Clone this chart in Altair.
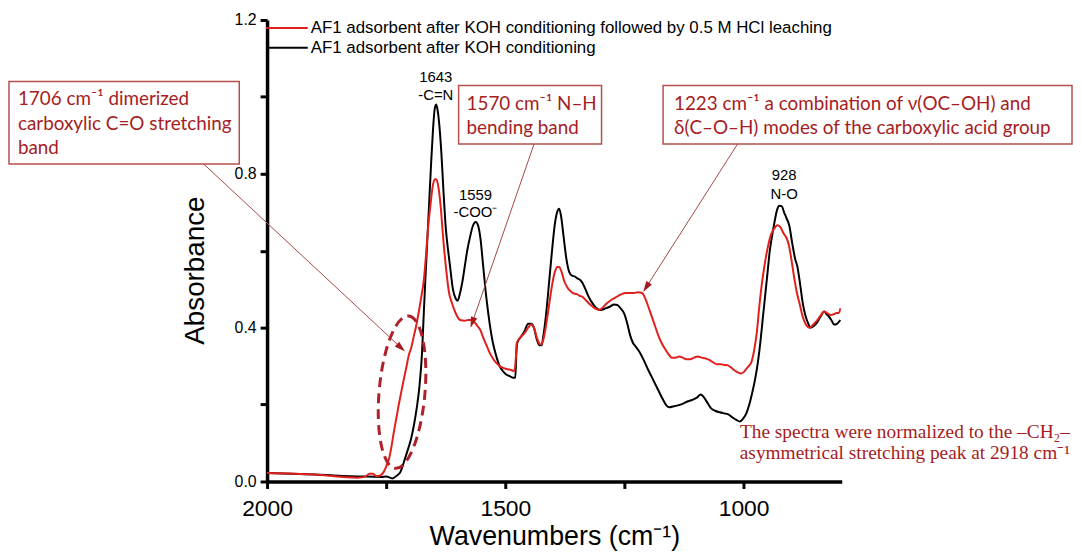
import math
import altair as alt
import pandas as pd

# ---------------- data ----------------
series_red = "AF1 adsorbent after KOH conditioning followed by 0.5 M HCl leaching"
series_black = "AF1 adsorbent after KOH conditioning"

wn_black = [2000, 1900, 1800, 1760, 1750, 1737, 1728, 1720, 1713, 1706, 1698, 1692, 1686, 1680,
            1675, 1671, 1668, 1664, 1660, 1656, 1652, 1648, 1645, 1642, 1638, 1634, 1630, 1625,
            1620, 1616, 1610, 1604, 1600, 1595, 1590, 1585, 1580, 1574, 1568, 1562, 1557, 1552,
            1547, 1540, 1533, 1526, 1519, 1512, 1505, 1498, 1491, 1484, 1479, 1477, 1475, 1468,
            1460, 1452, 1446, 1440, 1434, 1428, 1424, 1420, 1414, 1408, 1402, 1396, 1390, 1387,
            1383, 1378, 1372, 1366, 1360, 1354, 1349, 1344, 1338, 1332, 1325, 1318, 1310, 1300,
            1290, 1280, 1272, 1265, 1258, 1250, 1244, 1238, 1232, 1227, 1220, 1210, 1200, 1190,
            1180, 1170, 1162, 1156, 1148, 1138, 1128, 1118, 1108, 1098, 1090, 1084, 1076, 1068,
            1060, 1050, 1040, 1033, 1025, 1015, 1008, 1000, 994, 988, 982, 976, 970, 965, 960,
            955, 950, 945, 940, 935, 930, 925, 920, 915, 910, 904, 898, 892, 887, 881, 876, 870,
            864, 859, 852, 845, 838, 831, 826, 821, 815, 810, 804, 797]
abs_black = [0.022, 0.018, 0.013, 0.012, 0.013, 0.008, 0.015, 0.025, 0.05, 0.077, 0.11, 0.145,
             0.19, 0.25, 0.33, 0.44, 0.52, 0.62, 0.72, 0.82, 0.91, 0.97, 0.98, 0.965, 0.92, 0.85,
             0.76, 0.66, 0.60, 0.56, 0.50, 0.475, 0.47, 0.49, 0.52, 0.56, 0.60, 0.636, 0.665,
             0.675, 0.665, 0.63, 0.567, 0.48, 0.412, 0.36, 0.326, 0.30, 0.287, 0.278, 0.274, 0.27,
             0.27, 0.33, 0.36, 0.375, 0.39, 0.41, 0.41, 0.40, 0.37, 0.354, 0.354, 0.38, 0.44,
             0.52, 0.60, 0.67, 0.705, 0.709, 0.69, 0.64, 0.58, 0.545, 0.535, 0.533, 0.528, 0.525,
             0.516, 0.50, 0.48, 0.465, 0.452, 0.446, 0.45, 0.455, 0.46, 0.459, 0.45, 0.435, 0.41,
             0.38, 0.36, 0.352, 0.34, 0.317, 0.29, 0.265, 0.24, 0.215, 0.198, 0.193, 0.195, 0.198,
             0.202, 0.208, 0.212, 0.218, 0.226, 0.22, 0.205, 0.19, 0.184, 0.18, 0.177, 0.175,
             0.168, 0.16, 0.156, 0.165, 0.178, 0.20, 0.23, 0.265, 0.31, 0.36, 0.42, 0.48, 0.54,
             0.60, 0.64, 0.675, 0.705, 0.717, 0.716, 0.70, 0.685, 0.665, 0.62, 0.58, 0.558, 0.51,
             0.465, 0.43, 0.41, 0.40, 0.405, 0.415, 0.43, 0.442, 0.435, 0.429, 0.418, 0.408, 0.41,
             0.42]

wn_red = [2000, 1900, 1810, 1795, 1785, 1778, 1770, 1762, 1755, 1748, 1744, 1739, 1734, 1729,
          1724, 1718, 1713, 1708, 1703, 1697, 1692, 1687, 1682, 1677, 1671, 1667, 1662, 1657,
          1652, 1648, 1645, 1641, 1636, 1630, 1624, 1618, 1612, 1605, 1595, 1585, 1578, 1571,
          1565, 1559, 1553, 1545, 1538, 1533, 1525, 1518, 1512, 1504, 1495, 1488, 1481, 1478,
          1476, 1468, 1460, 1452, 1446, 1440, 1434, 1428, 1425, 1420, 1414, 1408, 1402, 1396,
          1391, 1387, 1382, 1376, 1370, 1366, 1358, 1350, 1344, 1338, 1330, 1322, 1314, 1308,
          1303, 1296, 1288, 1280, 1272, 1264, 1256, 1248, 1240, 1230, 1222, 1213, 1206, 1200,
          1193, 1186, 1179, 1172, 1165, 1158, 1151, 1143, 1135, 1128, 1120, 1112, 1104, 1096,
          1088, 1080, 1072, 1064, 1056, 1048, 1040, 1033, 1025, 1018, 1011, 1005, 999, 993, 988,
          984, 978, 972, 967, 961, 955, 949, 943, 937, 932, 928, 922, 916, 911, 905, 900, 894,
          888, 882, 876, 870, 865, 861, 856, 850, 845, 838, 831, 825, 817, 810, 805, 800, 797]
abs_red = [0.022, 0.018, 0.010, 0.012, 0.02, 0.02, 0.014, 0.016, 0.025, 0.045, 0.059, 0.09,
           0.128, 0.162, 0.197, 0.235, 0.266, 0.295, 0.326, 0.35, 0.378, 0.405, 0.438, 0.475,
           0.524, 0.58, 0.66, 0.72, 0.77, 0.786, 0.786, 0.77, 0.72, 0.627, 0.55, 0.49, 0.464,
           0.44, 0.42, 0.418, 0.42, 0.42, 0.415, 0.405, 0.395, 0.37, 0.35, 0.335, 0.318, 0.307,
           0.30, 0.295, 0.292, 0.29, 0.287, 0.32, 0.36, 0.375, 0.385, 0.40, 0.408, 0.40, 0.375,
           0.358, 0.356, 0.37, 0.41, 0.46, 0.51, 0.545, 0.558, 0.558, 0.545, 0.52, 0.505, 0.498,
           0.49, 0.487, 0.483, 0.48, 0.47, 0.46, 0.452, 0.448, 0.446, 0.452, 0.462, 0.47, 0.476,
           0.482, 0.487, 0.49, 0.49, 0.49, 0.492, 0.49, 0.475, 0.455, 0.43, 0.405, 0.38, 0.36,
           0.345, 0.332, 0.322, 0.322, 0.325, 0.322, 0.318, 0.318, 0.322, 0.325, 0.322, 0.32,
           0.316, 0.31, 0.305, 0.305, 0.303, 0.302, 0.295, 0.288, 0.283, 0.281, 0.285, 0.295,
           0.302, 0.309, 0.34, 0.39, 0.455, 0.52, 0.57, 0.61, 0.64, 0.655, 0.664, 0.666, 0.66,
           0.645, 0.636, 0.615, 0.58, 0.532, 0.49, 0.46, 0.429, 0.41, 0.402, 0.40, 0.405, 0.413,
           0.42, 0.432, 0.442, 0.438, 0.433, 0.435, 0.438, 0.438, 0.45]

x_ticks = [2000, 1750, 1500, 1250, 1000]
y_ticks = [0.0, 0.2, 0.4, 0.6, 0.8, 1.0, 1.2]

# ---------------- layout ----------------
W, H = 579, 465          # plot area
OX, OY = 269, 18         # plot origin on the page
XMIN, XMAX = 794, 2000
YMIN, YMAX = 0.0, 1.2

RED = "#E0201C"
DARKRED = "#A51D22"
BOXRED = "#B5504E"
ARROWRED = "#A54848"
BOXFONT = "Lato, 'Noto Sans', sans-serif"


def wn_at(px):
    return XMAX - (px - OX) / W * (XMAX - XMIN)


def ab_at(py):
    return YMAX - (py - OY) / H * (YMAX - YMIN)


xs = alt.Scale(domain=[XMIN, XMAX], reverse=True, nice=False, zero=False)
ys = alt.Scale(domain=[YMIN, YMAX], nice=False, zero=False)
color_scale = alt.Scale(domain=[series_red, series_black], range=[RED, "black"])

x_axis = alt.Axis(values=x_ticks, labelExpr="datum.value % 500 == 0 ? format(datum.value, 'd') : ''",
                  title="Wavenumbers (cm⁻¹)", titleFontSize=27, titleY=55, titleBaseline="middle",
                  labelFontSize=23, labelPadding=9)
y_axis = alt.Axis(values=y_ticks,
                  labelExpr="round(datum.value * 10) % 4 == 0 ? format(datum.value, '.1f') : ''",
                  title="Absorbance", titleFontSize=28, titleAngle=270,
                  titleX=-72, titleY=252, titleAlign="center", titleBaseline="middle",
                  labelFontSize=16, labelPadding=4)

spec = pd.concat([
    pd.DataFrame({"wn": wn_black, "A": abs_black, "series": series_black}),
    pd.DataFrame({"wn": wn_red, "A": abs_red, "series": series_red}),
])

lines = alt.Chart(spec).mark_line(strokeWidth=2, interpolate="monotone").encode(
    x=alt.X("wn:Q", scale=xs, axis=x_axis),
    y=alt.Y("A:Q", scale=ys, axis=y_axis),
    color=alt.Color("series:N", scale=color_scale, legend=None),
    detail="series:N",
)


def X(field):
    return alt.X(field, scale=xs, axis=x_axis)


def Y(field):
    return alt.Y(field, scale=ys, axis=y_axis)


# ---------------- legend (drawn as marks) ----------------
leg = pd.DataFrame({
    "series": [series_red, series_black],
    "x1": [wn_at(268)] * 2, "x2": [wn_at(310)] * 2, "xt": [wn_at(313)] * 2,
    "y": [ab_at(26), ab_at(46)],
})
leg_rules = alt.Chart(leg).mark_rule(strokeWidth=2).encode(
    x=X("x1:Q"), x2="x2:Q", y=Y("y:Q"),
    color=alt.Color("series:N", scale=color_scale, legend=None),
)
leg_text = alt.Chart(leg).mark_text(align="left", baseline="middle", font="Liberation Sans",
                                    fontSize=17, color="black").encode(
    x=X("xt:Q"), y=Y("y:Q"), text="series:N")

# ---------------- peak labels ----------------
peaks = pd.DataFrame({
    "t": ["1643", "-C=N", "1559", "-COO⁻", "928", "N-O"],
    "x": [wn_at(p) for p in [439, 439, 479, 479, 790, 790]],
    "y": [ab_at(p) for p in [75, 94, 194, 212, 174, 193]],
})
peak_text = alt.Chart(peaks).mark_text(align="center", baseline="middle", font="Liberation Sans",
                                       fontSize=15, color="black").encode(
    x=X("x:Q"), y=Y("y:Q"), text="t:N")

# ---------------- annotation boxes ----------------
boxes = pd.DataFrame({
    "x1": [wn_at(p) for p in [9, 462, 668]], "x2": [wn_at(p) for p in [241, 606, 1080]],
    "y1": [ab_at(p) for p in [80, 84, 84]], "y2": [ab_at(p) for p in [163, 143, 143]],
})
box_rects = alt.Chart(boxes).mark_rect(fill="white", stroke=BOXRED, strokeWidth=1.5).encode(
    x=X("x1:Q"), x2="x2:Q", y=Y("y1:Q"), y2="y2:Q")

box_lines = pd.DataFrame({
    "t": ["1706 cm⁻¹ dimerized", "carboxylic C=O stretching", "band",
          "1570 cm⁻¹ N–H", "bending band",
          "1223 cm⁻¹ a combination of ν(OC–OH) and", "δ(C–O–H) modes of the carboxylic acid group"],
    "x": [wn_at(p) for p in [18, 18, 18, 470, 470, 679, 679]],
    "y": [ab_at(p) for p in [98, 122.5, 147, 103, 127, 103, 127]],
})
box_text = alt.Chart(box_lines).mark_text(align="left", baseline="middle", font=BOXFONT,
                                          fontSize=19, color=DARKRED).encode(
    x=X("x:Q"), y=Y("y:Q"), text="t:N")

# ---------------- arrows ----------------
arrow_px = [((205, 163), (408, 352)), ((538, 143), (474, 328)), ((743, 143), (648, 292))]
rows, heads = [], []
for (sx, sy), (tx, ty) in arrow_px:
    dx, dy = tx - sx, ty - sy
    L = math.hypot(dx, dy)
    ux, uy = dx / L, dy / L
    rows.append({"x1": wn_at(sx), "y1": ab_at(sy), "x2": wn_at(tx - ux * 6), "y2": ab_at(ty - uy * 6)})
    heads.append({"x": wn_at(tx - ux * 5.5), "y": ab_at(ty - uy * 5.5),
                  "ang": math.degrees(math.atan2(dx, -dy)) % 360})
arrow_lines = alt.Chart(pd.DataFrame(rows)).mark_rule(color=ARROWRED, strokeWidth=1).encode(
    x=X("x1:Q"), x2="x2:Q", y=Y("y1:Q"), y2="y2:Q")
arrow_heads = alt.Chart(pd.DataFrame(heads)).mark_point(
    shape="M 0 -1 L 0.6 1 L -0.6 1 Z", filled=True, size=121, color="#A8191E", opacity=1).encode(
    x=X("x:Q"), y=Y("y:Q"), angle=alt.Angle("ang:Q", scale=None))

# ---------------- dashed ellipse ----------------
a, k = 0.3, 0.5523
ell_path = (f"M 0 -1 C {k*a:.4f} -1 {a} {-k:.4f} {a} 0 C {a} {k:.4f} {k*a:.4f} 1 0 1 "
            f"C {-k*a:.4f} 1 {-a} {k:.4f} {-a} 0 C {-a} {-k:.4f} {-k*a:.4f} -1 0 -1 Z")
ell = pd.DataFrame({"x": [wn_at(405)], "y": [ab_at(393)]})
ellipse = alt.Chart(ell).mark_point(shape=ell_path, filled=False, size=154 ** 2, angle=5,
                                    stroke="#B0202A", strokeWidth=3, strokeDash=[10, 6],
                                    opacity=1).encode(x=X("x:Q"), y=Y("y:Q"))

# ---------------- footnote ----------------
foot = pd.DataFrame({
    "t": ["The spectra were normalized to the –CH₂–", "asymmetrical stretching peak at 2918 cm⁻¹"],
    "x": [wn_at(1078)] * 2, "y": [ab_at(433), ab_at(454)],
})
foot_text = alt.Chart(foot).mark_text(align="right", baseline="middle", font="Liberation Serif",
                                      fontSize=19.5, color=DARKRED).encode(
    x=X("x:Q"), y=Y("y:Q"), text="t:N")

chart = alt.layer(
    lines, ellipse, arrow_lines, arrow_heads, box_rects, box_text, peak_text,
    leg_rules, leg_text, foot_text
).properties(
    width=W, height=H,
    autosize=alt.AutoSizeParams(type="none"),
    padding={"left": OX - 8, "top": OY - 8, "right": 1082 - 8 - (OX - 8) - W, "bottom": 72},
    background="white",
).configure_view(
    stroke=None
).configure_axis(
    domainWidth=3.5, domainColor="black", tickWidth=3, tickSize=7, tickColor="black",
    labelFont="Liberation Sans", labelColor="black", labelFlush=False, labelOverlap=False,
    titleFont="Liberation Sans", titleFontWeight="normal", titleColor="black", grid=False,
)

chart.save("out.html", embed_options={"renderer": "svg", "actions": False})
